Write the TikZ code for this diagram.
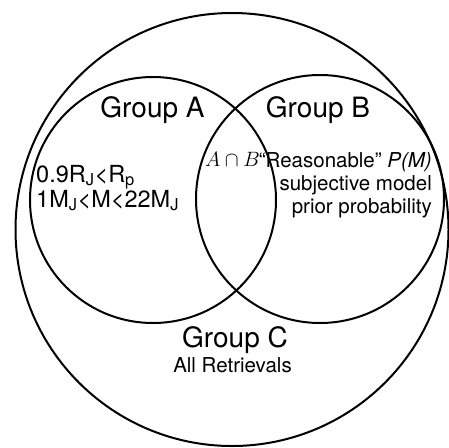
\documentclass[tikz,border=0pt]{standalone}
\usepackage{fontspec}
\setmainfont{TeX Gyre Heros}
\usepackage{tikz}
\usetikzlibrary{positioning}
\tikzset{
  setline/.style={line width=2pt},
  grp/.style={font=\fontsize{28}{32}\selectfont,inner sep=0pt,anchor=base},
  note/.style={font=\fontsize{20.5}{24}\selectfont,inner sep=0pt},
  cond/.style={font=\fontsize{23.5}{27}\selectfont,inner sep=0pt,anchor=base west},
  mathlbl/.style={font=\fontsize{20}{24}\selectfont,inner sep=0pt,anchor=base},
}

\begin{document}
\begin{tikzpicture}[x=1pt,y=-1pt]
  \useasboundingbox (0,0) rectangle (449,447);

  % the three sets
  \coordinate (cC) at (232,229.5);
  \coordinate (cA) at (153,200);
  \coordinate (cB) at (320,199);
  \draw[setline] (cC) circle[radius=216.5];
  \draw[setline] (cA) circle[radius=123];
  \draw[setline] (cB) circle[radius=124];

  % set names
  \node[grp] (grpA) at (152.5,117) {Group A};
  \node[grp] (grpB) at (318,117)   {Group B};
  \node[grp] (grpC) at (235,347)   {Group C};
  \node[note,anchor=base] (allret) at (232.5,372) {All Retrievals};

  % group A conditions
  \node[cond] (condR) at (36,182) {0.9R\textsubscript{J}<R\textsubscript{p}};
  \node[cond] (condM) at (36,207) {1M\textsubscript{J}<M<22M\textsubscript{J}};

  % overlap
  \node[mathlbl] (both) at (232.5,166) {$A\cap B$};

  % group B description
  \node[note,anchor=base east] (prior1) at (432,167) {“Reasonable” \textit{P(M)}};
  \node[note,anchor=base east] (prior2) at (432,190) {subjective model};
  \node[note,anchor=base east] (prior3) at (432,213) {prior probability};
\end{tikzpicture}
\end{document}
